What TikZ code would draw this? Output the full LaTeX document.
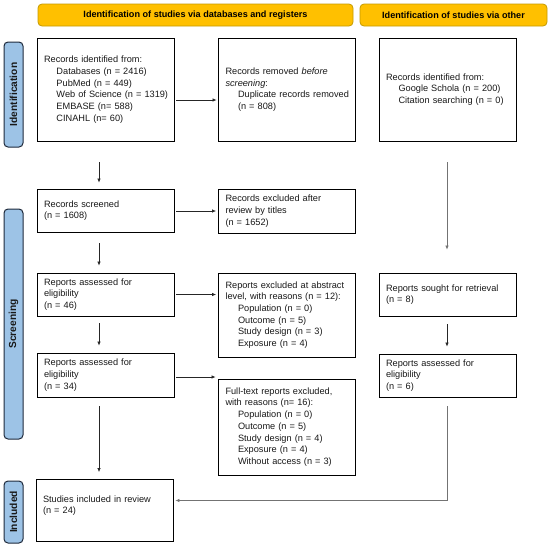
\documentclass[tikz,border=0pt]{standalone}
\usepackage{fontspec}
\setmainfont{Liberation Sans}
\usetikzlibrary{calc,arrows.meta}
\definecolor{hdrfill}{HTML}{FFC000}
\definecolor{hdrdraw}{HTML}{C49A00}
\definecolor{barfill}{HTML}{9DC3E6}
\definecolor{bardraw}{HTML}{1F2A3C}
\newcommand\subi[1]{\mbox{\hspace*{12.5pt}#1}}
\begin{document}
\begin{tikzpicture}[x=1pt,y=-1pt,
  hdr/.style={draw=hdrdraw, fill=hdrfill, line width=0.8pt, rounded corners=4pt,
    font=\fontsize{9.1}{11}\selectfont\bfseries, minimum height=22pt, inner sep=0pt},
  sidebar/.style={draw=bardraw, fill=barfill, line width=1pt, rounded corners=4pt,
    rotate=90, font=\fontsize{10.2}{12}\selectfont\bfseries, text=black!90, minimum height=19pt, inner sep=0pt},
  box/.style={draw=black, line width=0.9pt, fill=white, inner xsep=7pt, inner ysep=2pt,
    text width=123pt, align=left, font=\fontsize{9.2}{11.7}\selectfont, text=black!90},
  arr/.style={draw=black!85, line width=0.7pt, -{Latex[length=4pt,width=3.6pt]}},
  garr/.style={draw=black!55, line width=0.7pt, -{Latex[length=4pt,width=3.6pt]}}]
\useasboundingbox (0,0) rectangle (550,547);

% headers
\node[hdr, minimum width=315pt] (h1) at (195.5,15) {Identification of studies via databases and registers};
\node[hdr, minimum width=187pt] (h2) at (453.5,15) {Identification of studies via other};

% side bars
\node[sidebar, minimum width=105pt] (sb1) at (13.5,94.5) {Identification};
\node[sidebar, minimum width=230pt] (sb2) at (13.5,324) {Screening};
\node[sidebar, minimum width=62pt] (sb3) at (13.5,512) {Included};

% boxes
\node[box, minimum height=103pt] (b1) at (105.5,89.5) {\mbox{Records identified from:}\\
\subi{Databases (n = 2416)}\\
\subi{PubMed (n = 449)}\\
\subi{Web of Science (n = 1319)}\\
\subi{EMBASE (n= 588)}\\
\subi{CINAHL (n= 60)}};
\node[box, minimum height=103pt] (b2) at (287,89.5) {\mbox{Records removed \textit{before}}\\
\textit{screening}:\\
\subi{Duplicate records removed}\\
\subi{(n = 808)}};
\node[box, minimum height=103pt] (b3) at (447.5,89.5) {\mbox{Records identified from:}\\
\subi{Google Schola (n = 200)}\\
\subi{Citation searching (n = 0)}};

\node[box, minimum height=43pt] (s1) at (105.5,210.5) {Records screened\\(n = 1608)};
\node[box, minimum height=44pt] (e1) at (287,211) {\mbox{Records excluded after}\\review by titles\\(n = 1652)};

\node[box, minimum height=43pt] (r46) at (105.5,294.5) {\mbox{Reports assessed for}\\eligibility\\(n = 46)};
\node[box, minimum height=84pt] (e2) at (287,315) {\mbox{Reports excluded at abstract}\\
\mbox{level, with reasons (n = 12):}\\
\subi{Population (n = 0)}\\
\subi{Outcome (n = 5)}\\
\subi{Study design (n = 3)}\\
\subi{Exposure (n = 4)}};
\node[box, minimum height=43pt] (sought) at (447.5,294.5) {\mbox{Reports sought for retrieval}\\(n = 8)};

\node[box, minimum height=44pt] (r34) at (105.5,375) {\mbox{Reports assessed for}\\eligibility\\(n = 34)};
\node[box, minimum height=43pt] (r6) at (447.5,375.5) {\mbox{Reports assessed for}\\eligibility\\(n = 6)};

\node[box, minimum height=96pt] (e3) at (287,427) {\mbox{Full-text reports excluded,}\\
\mbox{with reasons (n= 16):}\\
\subi{Population (n = 0)}\\
\subi{Outcome (n = 5)}\\
\subi{Study design (n = 4)}\\
\subi{Exposure (n = 4)}\\
\subi{Without access (n = 3)}};

\node[box, minimum height=62pt] (inc) at (104.5,510.5) {\mbox{Studies included in review}\\(n = 24)\\ \mbox{}};

% connectors
\draw[arr] ($(b1.east)+(2,10.5)$) -- ($(b2.west)+(-1.5,10.5)$);
\draw[arr] ($(b1.south)+(-6.5,21)$) -- ($(s1.north)+(-6.5,-6)$);
\draw[arr] ($(s1.east)+(2,0.5)$) -- ($(e1.west)+(-2,0)$);
\draw[arr] ($(s1.south)+(-6.5,11)$) -- ($(r46.north)+(-6.5,-7)$);
\draw[arr] ($(r46.east)+(2,0)$) -- ($(e2.west |- r46.east)+(-2,0)$);
\draw[arr] ($(r46.south)+(-6.5,7)$) -- ($(r34.north)+(-6.5,-7)$);
\draw[arr] ($(r34.east)+(2,2)$) -- ($(e3.west |- r34.east)+(-2.5,2)$);
\draw[arr] ($(r34.south)+(-6.5,9)$) -- ($(inc.north)+(-5.5,-7)$);
\draw[garr] ($(b3.south)+(-0.5,21)$) -- ($(sought.north)+(-0.5,-23)$);
\draw[arr] ($(sought.south)+(-0.5,8)$) -- ($(r6.north)+(-0.5,-7)$);
\draw[garr] ($(r6.south)+(-0.5,9)$) |- ($(inc.east)+(2,-10)$);
\end{tikzpicture}
\end{document}
